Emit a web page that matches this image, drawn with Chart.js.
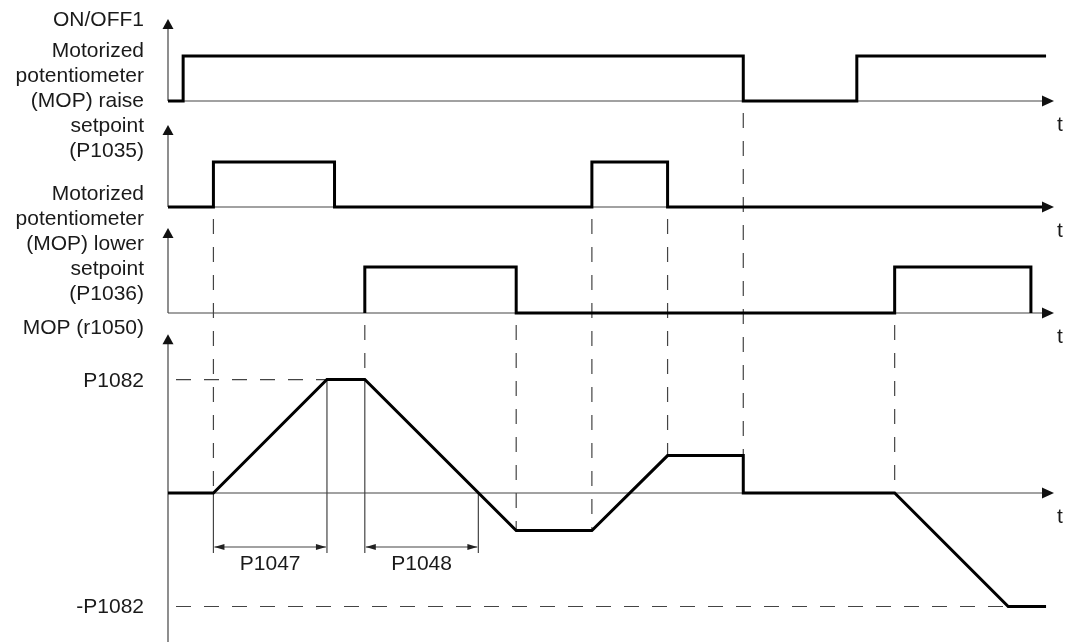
<!DOCTYPE html>
<html>
<head>
<meta charset="utf-8">
<title>MOP timing diagram</title>
<script src="https://cdn.jsdelivr.net/npm/chart.js@4.4.1/dist/chart.umd.min.js"></script>
<style>
  html, body { margin: 0; padding: 0; background: #fff; }
  #wrap { width: 1073px; height: 642px; }
</style>
</head>
<body>
<div id="wrap"><canvas id="mopChart" width="1073" height="642"></canvas></div>
<script>
// signal traces (time in arbitrary units, levels: 0 = low, 1 = high / P1082)
const onOffT = [0, 0.4, 0.4, 15.2, 15.2, 18.2, 18.2, 23.2];
const onOffV = [0, 0, 1, 1, 0, 0, 1, 1];
const raiseT = [0, 1.2, 1.2, 4.4, 4.4, 11.2, 11.2, 13.2, 13.2, 23.2];
const raiseV = [0, 0, 1, 1, 0, 0, 1, 1, 0, 0];
const lowerT = [5.2, 5.2, 9.2, 9.2, 19.2, 19.2, 22.8, 22.8];
const lowerV = [0, 1, 1, 0, 0, 1, 1, 0];
const mopT = [0, 1.2, 4.2, 5.2, 9.2, 11.2, 13.2, 15.2, 15.2, 19.2, 22.2, 23.2];
const mopV = [0, 0, 1, 1, -0.33, -0.33, 0.33, 0.33, 0, 0, -1, -1];

// dashed guide lines: time, panel they start from, MOP level they end at
const guideT = [1.2, 5.2, 9.2, 11.2, 13.2, 15.2, 19.2];
const guideFrom = [2, 3, 3, 2, 2, 1, 3];
const guideTo = [0, 1, -0.33, -0.33, 0.33, 0.33, 0];

// ramp times
const rampUp = [1.2, 4.2];     // P1047
const rampDown = [5.2, 8.2];   // P1048
const levelLabels = ['P1082', '-P1082'];
const levelValues = [1, -1];

// left hand labels
const label1 = ['ON/OFF1'];
const label2 = ['Motorized', 'potentiometer', '(MOP) raise', 'setpoint', '(P1035)'];
const label3 = ['Motorized', 'potentiometer', '(MOP) lower', 'setpoint', '(P1036)'];
const label4 = ['MOP (r1050)'];

const xEnd = 23.41;
const axisTip = [1.82, 1.82, 1.85, 1.4];

function pts(ts, vs) {
  return ts.map((t, i) => ({ x: t, y: vs[i] }));
}

const FONT = '21px "Liberation Sans", Arial, sans-serif';

function arrowUp(ctx, x, tipY) {
  ctx.beginPath();
  ctx.moveTo(x, tipY);
  ctx.lineTo(x - 5.5, tipY + 10);
  ctx.lineTo(x + 5.5, tipY + 10);
  ctx.closePath();
  ctx.fill();
}
function arrowRight(ctx, tipX, y) {
  ctx.beginPath();
  ctx.moveTo(tipX, y);
  ctx.lineTo(tipX - 12, y - 5.5);
  ctx.lineTo(tipX - 12, y + 5.5);
  ctx.closePath();
  ctx.fill();
}
function smallHead(ctx, tipX, y, dir) {
  ctx.beginPath();
  ctx.moveTo(tipX, y);
  ctx.lineTo(tipX + dir * 10, y - 3);
  ctx.lineTo(tipX + dir * 10, y + 3);
  ctx.closePath();
  ctx.fill();
}

const diagram = {
  id: 'diagram',
  beforeDatasetsDraw(chart) {
    const ctx = chart.ctx;
    const xs = chart.scales.x;
    const X = t => xs.getPixelForValue(t);
    const Y = (k, v) => chart.scales['y' + k].getPixelForValue(v);
    const x0 = X(0);
    const xTip = X(xEnd);

    ctx.save();
    ctx.strokeStyle = '#444';
    ctx.lineWidth = 1.2;

    // axes
    for (let k = 1; k <= 4; k++) {
      ctx.beginPath();
      ctx.moveTo(x0, Y(k, 0));
      ctx.lineTo(xTip - 4, Y(k, 0));
      ctx.stroke();
      ctx.beginPath();
      ctx.moveTo(x0, k === 4 ? chart.scales.y4.bottom : Y(k, 0));
      ctx.lineTo(x0, Y(k, axisTip[k - 1]) + 4);
      ctx.stroke();
    }

    // dashed guides
    ctx.setLineDash([15, 13]);
    ctx.lineDashOffset = -12;
    guideT.forEach((t, i) => {
      ctx.beginPath();
      ctx.moveTo(X(t), Y(guideFrom[i], 0));
      ctx.lineTo(X(t), Y(4, guideTo[i]));
      ctx.stroke();
    });
    // level lines
    ctx.lineDashOffset = -8;
    ctx.beginPath();
    ctx.moveTo(x0, Y(4, 1));
    ctx.lineTo(X(rampUp[1]), Y(4, 1));
    ctx.moveTo(x0, Y(4, -1));
    ctx.lineTo(X(22.2), Y(4, -1));
    ctx.stroke();
    ctx.setLineDash([]);

    // ramp time dimensions
    const dimY = Y(4, 0) + 54;
    const ext = [[rampUp[0], 0], [rampUp[1], 1], [rampDown[0], 1], [rampDown[1], 0]];
    ext.forEach(([t, v]) => {
      ctx.beginPath();
      ctx.moveTo(X(t), Y(4, v));
      ctx.lineTo(X(t), dimY + 6);
      ctx.stroke();
    });
    ctx.fillStyle = '#222';
    [rampUp, rampDown].forEach(r => {
      const a = X(r[0]) + 1, b = X(r[1]) - 1;
      ctx.beginPath();
      ctx.moveTo(a, dimY);
      ctx.lineTo(b, dimY);
      ctx.stroke();
      smallHead(ctx, a, dimY, 1);
      smallHead(ctx, b, dimY, -1);
    });
    ctx.restore();
  },
  afterDatasetsDraw(chart) {
    const ctx = chart.ctx;
    const xs = chart.scales.x;
    const X = t => xs.getPixelForValue(t);
    const Y = (k, v) => chart.scales['y' + k].getPixelForValue(v);
    const x0 = X(0);
    const xTip = X(xEnd);

    ctx.save();
    ctx.fillStyle = '#111';
    for (let k = 1; k <= 4; k++) {
      arrowUp(ctx, x0, Y(k, axisTip[k - 1]));
      arrowRight(ctx, xTip, Y(k, 0));
    }

    ctx.font = FONT;
    ctx.fillStyle = '#1a1a1a';
    ctx.textBaseline = 'alphabetic';

    // "t" under each time axis
    ctx.textAlign = 'left';
    for (let k = 1; k <= 4; k++) {
      ctx.fillText('t', xTip + 3, Y(k, 0) + 30);
    }

    // names of the signals
    ctx.textAlign = 'right';
    const lx = x0 - 24;
    ctx.fillText(label1[0], lx, Y(1, 1) - 30);
    label2.forEach((s, i) => ctx.fillText(s, lx, Y(1, 0) - 44 + i * 25));
    label3.forEach((s, i) => ctx.fillText(s, lx, Y(3, 0) - 113 + i * 25));
    ctx.fillText(label4[0], lx, Y(3, 0) + 21);
    levelLabels.forEach((s, i) => ctx.fillText(s, lx, Y(4, levelValues[i]) + 7));

    // ramp time labels
    ctx.textAlign = 'center';
    const dimY = Y(4, 0) + 54;
    ctx.fillText('P1047', (X(rampUp[0]) + X(rampUp[1])) / 2, dimY + 23);
    ctx.fillText('P1048', (X(rampDown[0]) + X(rampDown[1])) / 2, dimY + 23);
    ctx.restore();
  }
};

function trace(ts, vs, axis) {
  return {
    data: pts(ts, vs),
    yAxisID: axis,
    borderColor: '#000',
    borderWidth: 3,
    borderJoinStyle: 'miter',
    pointRadius: 0,
    tension: 0,
    fill: false
  };
}

// stacked y axes: defined bottom panel first, top panel last
const panelAxis = (min, max, weight) => ({
  type: 'linear',
  display: false,
  position: 'left',
  stack: 'panels',
  stackWeight: weight,
  min: min,
  max: max
});

new Chart(document.getElementById('mopChart'), {
  type: 'line',
  data: {
    datasets: [
      trace(onOffT, onOffV, 'y1'),
      trace(raiseT, raiseV, 'y2'),
      trace(lowerT, lowerV, 'y3'),
      trace(mopT, mopV, 'y4')
    ]
  },
  options: {
    responsive: false,
    animation: false,
    layout: { padding: { left: 168, right: 19, top: 14, bottom: 0 } },
    plugins: {
      legend: { display: false },
      tooltip: { enabled: false }
    },
    scales: {
      x: { type: 'linear', display: false, min: 0, max: xEnd },
      y4: panelAxis(-1.313, 1.507, 320),
      y3: panelAxis(-0.196, 2.065, 104),
      y2: panelAxis(-0.244, 2.111, 106),
      y1: panelAxis(-0.244, 1.933, 98)
    }
  },
  plugins: [diagram]
});
</script>
</body>
</html>
